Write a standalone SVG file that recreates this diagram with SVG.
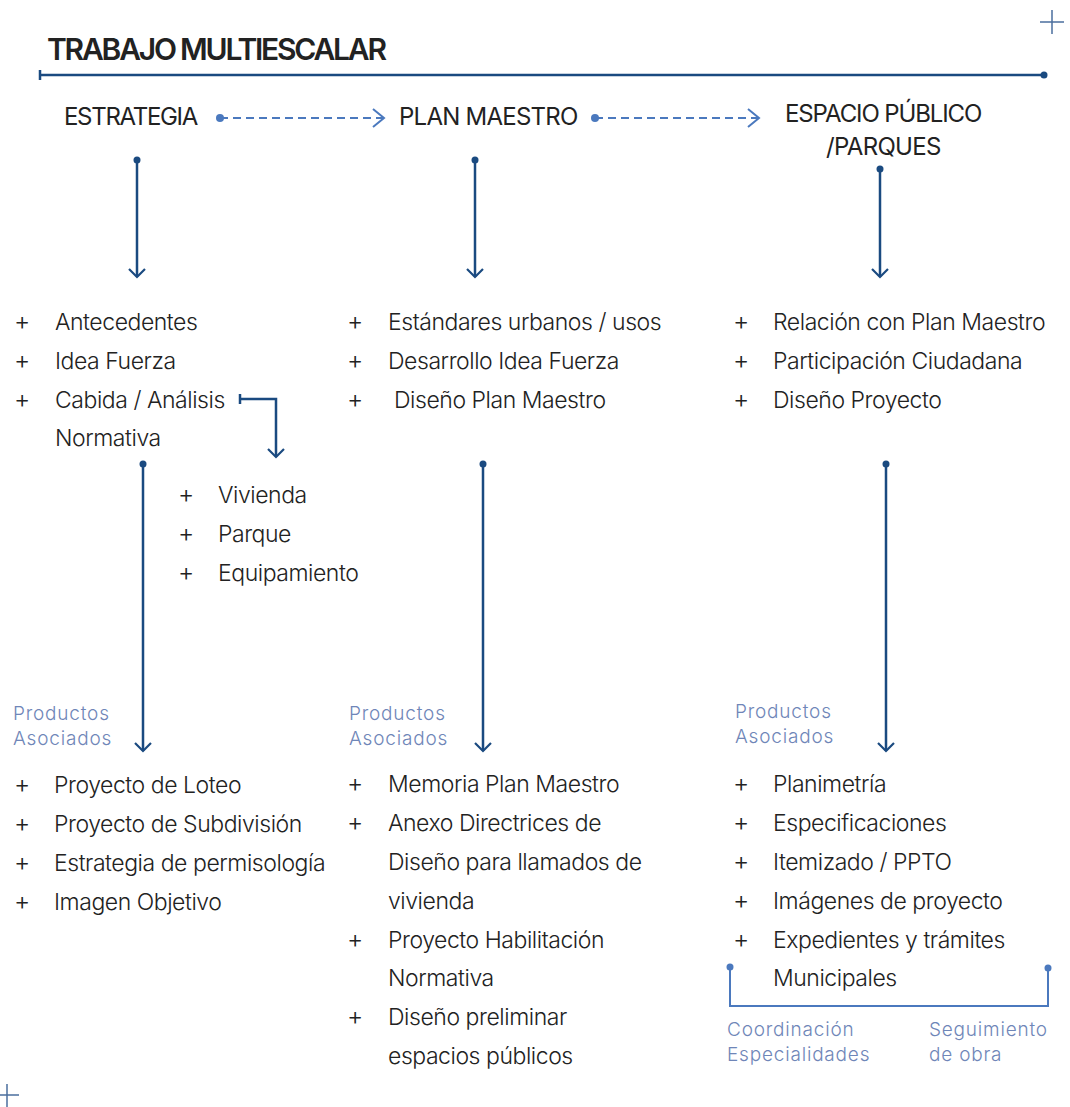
<svg xmlns="http://www.w3.org/2000/svg" width="1070" height="1107" viewBox="0 0 1070 1107">
<style>
.t{font-family:Inter,"Liberation Sans",sans-serif;fill:#222;}
.title{font-size:30px;font-weight:600;letter-spacing:-2px;}
.head{font-size:24px;font-weight:400;letter-spacing:-1.3px;}
.item{font-size:23px;font-weight:300;letter-spacing:-0.45px;}
.plus{font-size:25px;font-weight:300;}
.lab{font-family:Inter,"Liberation Sans",sans-serif;font-size:19px;fill:#6f86b8;font-weight:300;letter-spacing:0.8px;}
.dk{stroke:#1a4a80;stroke-width:2.5;fill:none;}
.lt{stroke:#4b79be;stroke-width:2;fill:none;}
.dash{stroke:#4b79be;stroke-width:2;fill:none;stroke-dasharray:8 5;}
</style>
<defs>
<marker id="ad" viewBox="-10 -10 20 20" markerWidth="20" markerHeight="20" markerUnits="userSpaceOnUse" refX="0" refY="0" orient="auto">
<path d="M-8,-8 L0,0 L-8,8" fill="none" stroke="#1a4a80" stroke-width="2.2"/>
</marker>
<marker id="al" viewBox="-14 -12 28 24" markerWidth="28" markerHeight="24" markerUnits="userSpaceOnUse" refX="0" refY="0" orient="auto">
<path d="M-11,-9 L0,0 L-11,9" fill="none" stroke="#4b79be" stroke-width="2"/>
</marker>
</defs>
<rect width="1070" height="1107" fill="#fff"/>

<g id="corners">
<path d="M1040,22 H1064 M1052,10 V34" stroke="#4b6f9e" stroke-width="1.5"/>
<path d="M0,1095 H19 M7,1084 V1107" stroke="#4b6f9e" stroke-width="1.5"/>
</g>

<g id="title">
<text class="t title" x="47" y="60" textLength="338">TRABAJO MULTIESCALAR</text>
<path d="M40,75 H1044 M40,70 V80" stroke="#1a4a80" stroke-width="2.5" fill="none"/>
<circle cx="1044" cy="75" r="3.5" fill="#1a4a80"/>
</g>

<g id="connectors">
<path class="dash" d="M220,118 H384" marker-end="url(#al)"/>
<circle cx="220" cy="118" r="4" fill="#4b79be"/>
<path class="dash" d="M595,118 H759" marker-end="url(#al)"/>
<circle cx="595" cy="118" r="4" fill="#4b79be"/>

<path class="dk" d="M137,160 V277" marker-end="url(#ad)"/>
<circle cx="137" cy="160" r="3.5" fill="#1a4a80"/>
<path class="dk" d="M475,160 V277" marker-end="url(#ad)"/>
<circle cx="475" cy="160" r="3.5" fill="#1a4a80"/>
<path class="dk" d="M880,169 V277" marker-end="url(#ad)"/>
<circle cx="880" cy="169" r="3.5" fill="#1a4a80"/>

<path class="dk" d="M240,399 H276 V457" marker-end="url(#ad)"/>
<path d="M240,394 V404" stroke="#1a4a80" stroke-width="2.5"/>

<path class="dk" d="M143,464 V751" marker-end="url(#ad)"/>
<circle cx="143" cy="464" r="3.5" fill="#1a4a80"/>
<path class="dk" d="M483,464 V751" marker-end="url(#ad)"/>
<circle cx="483" cy="464" r="3.5" fill="#1a4a80"/>
<path class="dk" d="M886,464 V751" marker-end="url(#ad)"/>
<circle cx="886" cy="464" r="3.5" fill="#1a4a80"/>

<path class="lt" d="M730,967 V1006 H1048 V968"/>
<circle cx="730" cy="967" r="3.5" fill="#4b79be"/>
<circle cx="1048" cy="968" r="3.5" fill="#4b79be"/>
</g>

<g id="estrategia">
<text class="t head" x="64" y="125" textLength="133">ESTRATEGIA</text>
</g>
<g id="plan-maestro">
<text class="t head" x="399" y="125" textLength="178">PLAN  MAESTRO</text>
</g>
<g id="espacio-publico">
<text class="t head" x="785" y="122" textLength="196">ESPACIO PÚBLICO</text>
<text class="t head" x="826" y="155" textLength="114">/PARQUES</text>
</g>

<g id="list-estrategia">
<text class="t plus" x="14" y="330">+</text>
<text class="t item" x="55" y="330">Antecedentes</text>
<text class="t plus" x="14" y="369">+</text>
<text class="t item" x="55" y="369">Idea Fuerza</text>
<text class="t plus" x="14" y="408">+</text>
<text class="t item" x="55" y="408">Cabida / Análisis</text>
<text class="t item" x="55" y="446">Normativa</text>
</g>

<g id="list-cabida">
<text class="t plus" x="178" y="503">+</text>
<text class="t item" x="218" y="503">Vivienda</text>
<text class="t plus" x="178" y="542">+</text>
<text class="t item" x="218" y="542">Parque</text>
<text class="t plus" x="178" y="581">+</text>
<text class="t item" x="218" y="581">Equipamiento</text>
</g>

<g id="list-plan">
<text class="t plus" x="347" y="330">+</text>
<text class="t item" x="388" y="330">Estándares urbanos / usos</text>
<text class="t plus" x="347" y="369">+</text>
<text class="t item" x="388" y="369">Desarrollo Idea Fuerza</text>
<text class="t plus" x="347" y="408">+</text>
<text class="t item" x="394" y="408">Diseño Plan Maestro</text>
</g>

<g id="list-espacio">
<text class="t plus" x="733" y="330">+</text>
<text class="t item" x="773" y="330">Relación con Plan Maestro</text>
<text class="t plus" x="733" y="369">+</text>
<text class="t item" x="773" y="369">Participación Ciudadana</text>
<text class="t plus" x="733" y="408">+</text>
<text class="t item" x="773" y="408">Diseño Proyecto</text>
</g>

<g id="productos-1">
<text class="lab" x="13" y="720">Productos</text>
<text class="lab" x="13" y="745">Asociados</text>
<text class="t plus" x="14" y="793">+</text>
<text class="t item" x="54" y="793">Proyecto de Loteo</text>
<text class="t plus" x="14" y="832">+</text>
<text class="t item" x="54" y="832">Proyecto de Subdivisión</text>
<text class="t plus" x="14" y="871">+</text>
<text class="t item" x="54" y="871">Estrategia de permisología</text>
<text class="t plus" x="14" y="910">+</text>
<text class="t item" x="54" y="910">Imagen Objetivo</text>
</g>

<g id="productos-2">
<text class="lab" x="349" y="720">Productos</text>
<text class="lab" x="349" y="745">Asociados</text>
<text class="t plus" x="347" y="792">+</text>
<text class="t item" x="388" y="792">Memoria Plan Maestro</text>
<text class="t plus" x="347" y="831">+</text>
<text class="t item" x="388" y="831">Anexo Directrices de</text>
<text class="t item" x="388" y="870">Diseño para llamados de</text>
<text class="t item" x="388" y="909">vivienda</text>
<text class="t plus" x="347" y="948">+</text>
<text class="t item" x="388" y="948">Proyecto Habilitación</text>
<text class="t item" x="388" y="986">Normativa</text>
<text class="t plus" x="347" y="1025">+</text>
<text class="t item" x="388" y="1025">Diseño preliminar</text>
<text class="t item" x="388" y="1064">espacios públicos</text>
</g>

<g id="productos-3">
<text class="lab" x="735" y="718">Productos</text>
<text class="lab" x="735" y="743">Asociados</text>
<text class="t plus" x="733" y="792">+</text>
<text class="t item" x="773" y="792">Planimetría</text>
<text class="t plus" x="733" y="831">+</text>
<text class="t item" x="773" y="831">Especificaciones</text>
<text class="t plus" x="733" y="870">+</text>
<text class="t item" x="773" y="870">Itemizado / PPTO</text>
<text class="t plus" x="733" y="909">+</text>
<text class="t item" x="773" y="909">Imágenes de proyecto</text>
<text class="t plus" x="733" y="948">+</text>
<text class="t item" x="773" y="948">Expedientes y trámites</text>
<text class="t item" x="773" y="986">Municipales</text>
</g>

<g id="bracket-labels">
<text class="lab" x="727" y="1036">Coordinación</text>
<text class="lab" x="727" y="1061">Especialidades</text>
<text class="lab" x="929" y="1036">Seguimiento</text>
<text class="lab" x="929" y="1061">de obra</text>
</g>
</svg>
